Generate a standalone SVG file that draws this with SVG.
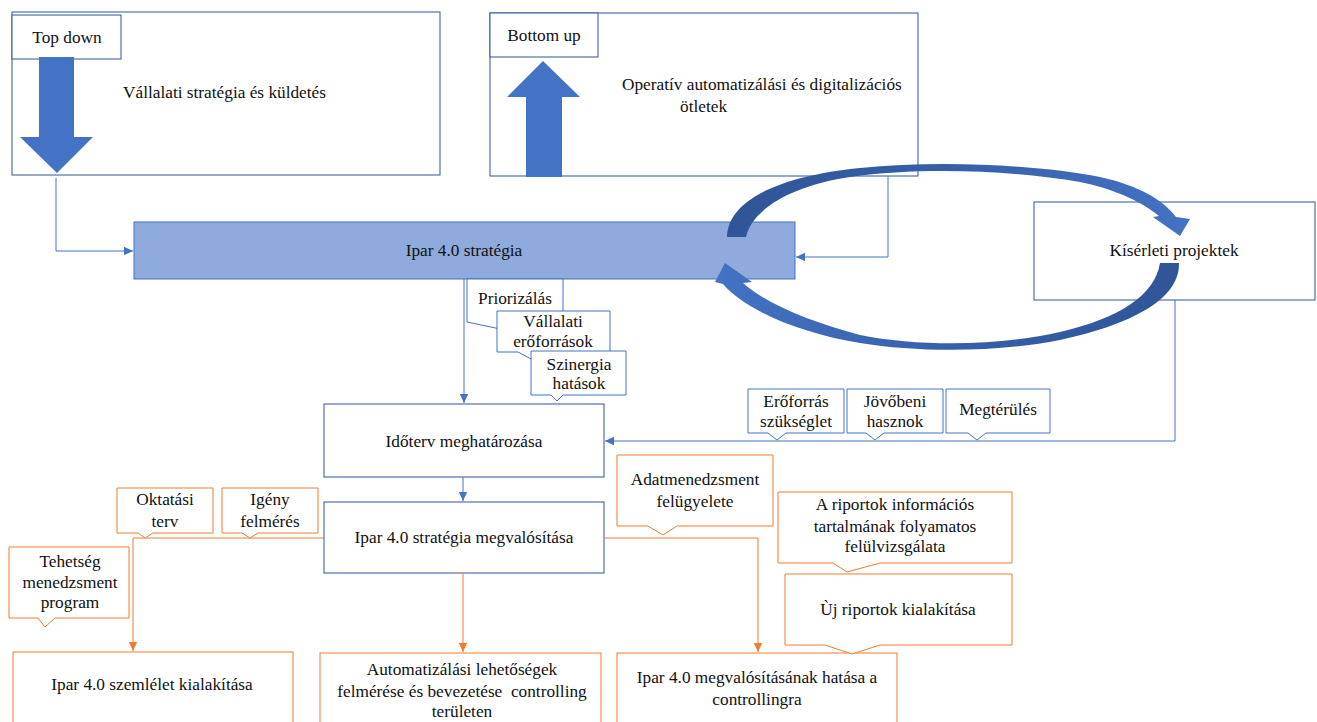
<svg xmlns="http://www.w3.org/2000/svg" width="1317" height="722" viewBox="0 0 1317 722">
<style>
text{font-family:"Liberation Serif","Times New Roman",serif;font-size:17.3px;fill:#111;}
.m{text-anchor:middle;}
.box{fill:#fff;stroke:#2F5597;stroke-width:1;}
.cb{fill:#fff;stroke:#4472C4;stroke-width:1;}
.co{fill:#fff;stroke:#ED7D31;stroke-width:1;}
.bl{fill:none;stroke:#4472C4;stroke-width:1;}
.or{fill:none;stroke:#ED7D31;stroke-width:1;}
.big{fill:#4472C4;}
</style>
<defs>
<marker id="ab" markerWidth="10" markerHeight="10" refX="9" refY="5" orient="auto" markerUnits="userSpaceOnUse"><path d="M0,0.8 L9,5 L0,9.2 Z" fill="#4472C4"/></marker>
<marker id="ao" markerWidth="10" markerHeight="10" refX="9" refY="5" orient="auto" markerUnits="userSpaceOnUse"><path d="M0,0.8 L9,5 L0,9.2 Z" fill="#ED7D31"/></marker>
<linearGradient id="gu" x1="727" y1="0" x2="1190" y2="0" gradientUnits="userSpaceOnUse"><stop offset="0" stop-color="#2F5597"/><stop offset="0.5" stop-color="#3760AA"/><stop offset="1" stop-color="#4472C4"/></linearGradient>
<linearGradient id="gl" x1="1180" y1="0" x2="715" y2="0" gradientUnits="userSpaceOnUse"><stop offset="0" stop-color="#2F5597"/><stop offset="0.5" stop-color="#3760AA"/><stop offset="1" stop-color="#4472C4"/></linearGradient>
</defs>

<g id="node-vallalati">
<rect class="box" x="12" y="12" width="428" height="163"/>
<text x="123" y="98">Vállalati stratégia és küldetés</text>
</g>
<g id="node-topdown">
<rect class="box" x="12" y="15" width="109" height="44"/>
<text class="m" x="67" y="43">Top down</text>
<polygon class="big" points="39,57 74,57 74,137 93,137 57,173 20,137 39,137"/>
</g>
<g id="node-operativ">
<rect class="box" x="490" y="13" width="428" height="163"/>
<text x="622" y="90">Operatív automatizálási és digitalizációs</text>
<text x="680" y="112">ötletek</text>
</g>
<g id="node-bottomup">
<rect class="box" x="490" y="13" width="108" height="44"/>
<text class="m" x="544" y="41">Bottom up</text>
<polygon class="big" points="543,61 580,97 562,97 562,177 526,177 526,97 507,97"/>
</g>
<g id="node-ipar-strategia">
<rect x="134" y="222" width="661" height="57" fill="#8FAADC" stroke="#4472C4" stroke-width="1"/>
<text class="m" x="464" y="256">Ipar 4.0 stratégia</text>
</g>
<g id="node-kiserleti">
<rect class="box" x="1034" y="202" width="281" height="98"/>
<text class="m" x="1174" y="256">Kísérleti projektek</text>
</g>
<g id="node-idoterv">
<rect class="box" x="324" y="404" width="280" height="73"/>
<text class="m" x="464" y="447">Időterv meghatározása</text>
</g>
<g id="node-megvalositas">
<rect class="box" x="324" y="502" width="280" height="71"/>
<text class="m" x="464" y="543">Ipar 4.0 stratégia megvalósítása</text>
</g>
<g id="node-szemlelet">
<rect class="co" x="13" y="652" width="280" height="80"/>
<text class="m" x="152" y="690">Ipar 4.0 szemlélet kialakítása</text>
</g>
<g id="node-automatizalasi">
<rect class="co" x="320" y="653" width="281" height="80"/>
<text class="m" x="462" y="675">Automatizálási lehetőségek</text>
<text class="m" x="462" y="697" xml:space="preserve">felmérése és bevezetése  controlling</text>
<text class="m" x="462" y="717">területen</text>
</g>
<g id="node-hatasa">
<rect class="co" x="617" y="653" width="280" height="80"/>
<text class="m" x="757" y="683">Ipar 4.0 megvalósításának hatása a</text>
<text class="m" x="757" y="705">controllingra</text>
</g>

<g id="connectors">
<path class="bl" d="M56,178 V251 H133" marker-end="url(#ab)"/>
<path class="bl" d="M888,176 V257 H796" marker-end="url(#ab)"/>
<path class="bl" d="M464,279 V403" marker-end="url(#ab)"/>
<path class="bl" d="M1175,300 V441 H605" marker-end="url(#ab)"/>
<path class="bl" d="M463,477 V501" marker-end="url(#ab)"/>
<path class="or" d="M324,538 H133 V651" marker-end="url(#ao)"/>
<path class="or" d="M463,573 V652" marker-end="url(#ao)"/>
<path class="or" d="M604,538 H758 V652" marker-end="url(#ao)"/>
<path id="loop-upper" fill="url(#gu)" d="M727,237 C728,200 780,176 860,168 C940,160 1040,165 1100,177 C1140,186 1163,200 1176,217 L1190,219 L1180,236 L1153,217 L1159,216 C1140,200 1110,188 1080,182 C1010,170 920,167 850,177 C790,186 752,210 746,237 Z"/>
<path id="loop-lower" fill="url(#gl)" d="M1179,263 C1180,300 1130,325 1060,340 C1000,352 920,353 860,343 C800,333 745,310 723,284 L715,282 L725,263 L752,282 L743,283 C765,303 810,322 860,335 C920,347 1000,346 1060,332 C1120,318 1155,295 1160,263 Z"/>
</g>

<g id="callout-priorizalas">
<path class="cb" d="M467,279 H563 V322 H520 L505,330 L467,322 Z"/>
<text class="m" x="515" y="304">Priorizálás</text>
</g>
<g id="callout-vallalati-eroforrasok">
<path class="cb" d="M497,311 H610 V352 H545 L531,359 L518,352 H497 Z"/>
<text class="m" x="553" y="327">Vállalati</text>
<text class="m" x="553" y="347">erőforrások</text>
</g>
<g id="callout-szinergia">
<path class="cb" d="M531,351 H626 V395 H563 L557,401 L551,395 H531 Z"/>
<text class="m" x="579" y="370">Szinergia</text>
<text class="m" x="579" y="389">hatások</text>
</g>
<g id="callout-eroforras">
<path class="cb" d="M748,389 H844 V433 H786 L777,440 L768,433 H748 Z"/>
<text class="m" x="796" y="407">Erőforrás</text>
<text class="m" x="796" y="427">szükséglet</text>
</g>
<g id="callout-jovobeni">
<path class="cb" d="M847,389 H943 V433 H884 L875,440 L866,433 H847 Z"/>
<text class="m" x="895" y="407">Jövőbeni</text>
<text class="m" x="895" y="427">hasznok</text>
</g>
<g id="callout-megterules">
<path class="cb" d="M946,389 H1050 V433 H986 L977,440 L968,433 H946 Z"/>
<text class="m" x="998" y="415">Megtérülés</text>
</g>
<g id="callout-oktatasi">
<path class="co" d="M117,488 H213 V533 H153 L145,538 L138,533 H117 Z"/>
<text class="m" x="165" y="505">Oktatási</text>
<text class="m" x="165" y="527">terv</text>
</g>
<g id="callout-igeny">
<path class="co" d="M222,488 H318 V533 H258 L250,538 L242,533 H222 Z"/>
<text class="m" x="270" y="505">Igény</text>
<text class="m" x="270" y="527">felmérés</text>
</g>
<g id="callout-tehetseg">
<path class="co" d="M9,547 H129 V618 H55 L45,627 L38,618 H9 Z"/>
<text class="m" x="70" y="567">Tehetség</text>
<text class="m" x="70" y="588">menedzsment</text>
<text class="m" x="70" y="608">program</text>
</g>
<g id="callout-adatmenedzsment">
<path class="co" d="M617,455 H773 V526 H677 L663,535 L648,526 H617 Z"/>
<text class="m" x="695" y="485">Adatmenedzsment</text>
<text class="m" x="695" y="507">felügyelete</text>
</g>
<g id="callout-riportok">
<path class="co" d="M778,492 H1012 V563 H880 L847,572 L833,563 H778 Z"/>
<text class="m" x="895" y="510">A riportok információs</text>
<text class="m" x="895" y="532">tartalmának folyamatos</text>
<text class="m" x="895" y="552">felülvizsgálata</text>
</g>
<g id="callout-uj-riportok">
<path class="co" d="M785,574 H1012 V645 H880 L852,654 L825,645 H785 Z"/>
<text class="m" x="898" y="615">Ùj riportok kialakítása</text>
</g>
</svg>
